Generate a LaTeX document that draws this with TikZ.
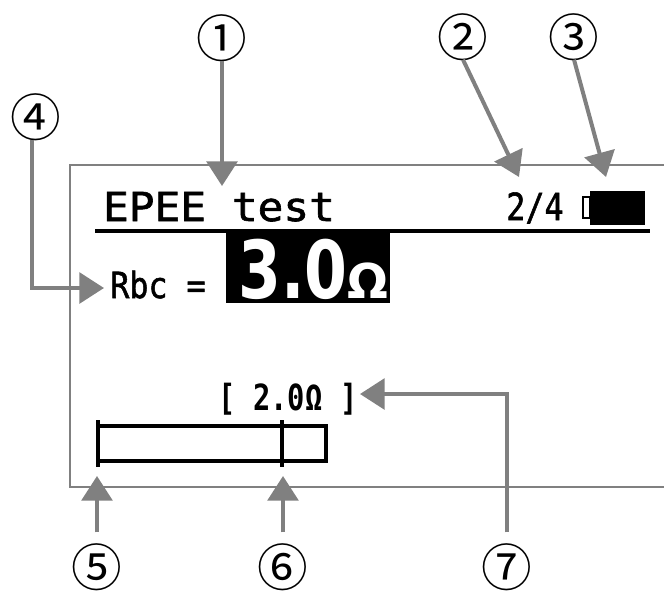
\documentclass[tikz,border=0pt]{standalone}
\usepackage{fontspec}
\usetikzlibrary{arrows.meta}
\newfontfamily\lcdfont[FakeBold=1.5]{DejaVu Sans Mono}
\newfontfamily\lcdbold{DejaVu Sans Mono Bold}
\newfontfamily\bigfont{DejaVu Sans Bold}
\newfontfamily\numfont{Noto Sans CJK JP}
\newcommand{\lcdtext}[5]{\scalebox{#2}[#3]{\fontsize{#1}{#1}\selectfont#4#5}}
\tikzset{
  x=0.75pt,y=-0.75pt,
  callout/.style={circle,inner sep=-8pt,outer sep=0pt,minimum size=34pt,font=\fontsize{38pt}{38pt}\selectfont\numfont},
  pointer/.style={draw=black!50,line width=3pt,-{Triangle[length=18.5pt,width=23pt]}},
  lcdline/.style={line width=3pt,black},
  lcd/.style={inner sep=0pt,anchor=base,text=black}
}
\begin{document}
\begin{tikzpicture}
\useasboundingbox[fill=white] (0,0) rectangle (664,590);
% screen frame
\draw[black!50,line width=0.9pt] (664,165) -- (70,165) -- (70,487) -- (664,487);
% header
\node[lcd] (title) at (219,221) {\lcdtext{30pt}{1.07}{1.0}{\lcdfont}{EPEE test}};
\node[lcd] (page) at (535,220) {\lcdtext{28pt}{0.85}{1.0}{\lcdfont}{2/4}};
\draw[lcdline] (95,231) -- (650,231);
\draw[black,line width=1.8pt,fill=white] (583,197) rectangle (590,218);
\fill[black] (590,191) rectangle (645,225);
% value
\node[lcd] (rbc) at (158,298) {\lcdtext{27pt}{0.88}{1.0}{\lcdfont}{Rbc =}};
\fill[black] (226,233) rectangle (390,303);
\node[lcd,text=white] (val) at (293,298) {\lcdtext{60pt}{0.77}{1.0}{\bigfont}{3.0}};
\node[lcd,text=white] (ohm) at (368,298) {\lcdtext{36pt}{1.0}{1.0}{\bigfont}{Ω}};
% limit and bar
\node[lcd] (limit) at (288,410) {\lcdtext{27pt}{0.8}{1.0}{\lcdbold}{[ 2.0Ω ]}};
\draw[lcdline] (98,426) -- (326,426) -- (326,461) -- (98,461);
\draw[lcdline] (98,420) -- (98,467);
\draw[lcdline] (282,420) -- (282,467);
% callouts
\node[callout] (c1) at (222,38) {①};
\node[callout] (c2) at (463,37) {②};
\node[callout] (c3) at (574,37) {③};
\node[callout] (c4) at (36,117) {④};
\node[callout] (c5) at (97,567) {⑤};
\node[callout] (c6) at (283,567) {⑥};
\node[callout] (c7) at (507,567) {⑦};
\coordinate (t1) at (222,186);
\coordinate (t2) at (519,177);
\coordinate (t3) at (606,177);
\coordinate (t4) at (104,288);
\coordinate (t5) at (97,476);
\coordinate (t6) at (283,476);
\coordinate (t7) at (360,394);
\draw[pointer] (c1.south) -- (t1);
\draw[pointer] (c2.south) -- (t2);
\draw[pointer] (c3.south) -- (t3);
\draw[pointer] (c4.south -| 32,0) |- (t4);
\draw[pointer,shorten <=9pt] (c5.north) -- (t5);
\draw[pointer,shorten <=9pt] (c6.north) -- (t6);
\draw[pointer,shorten <=9pt] (c7.north) |- (t7);
\end{tikzpicture}
\end{document}
